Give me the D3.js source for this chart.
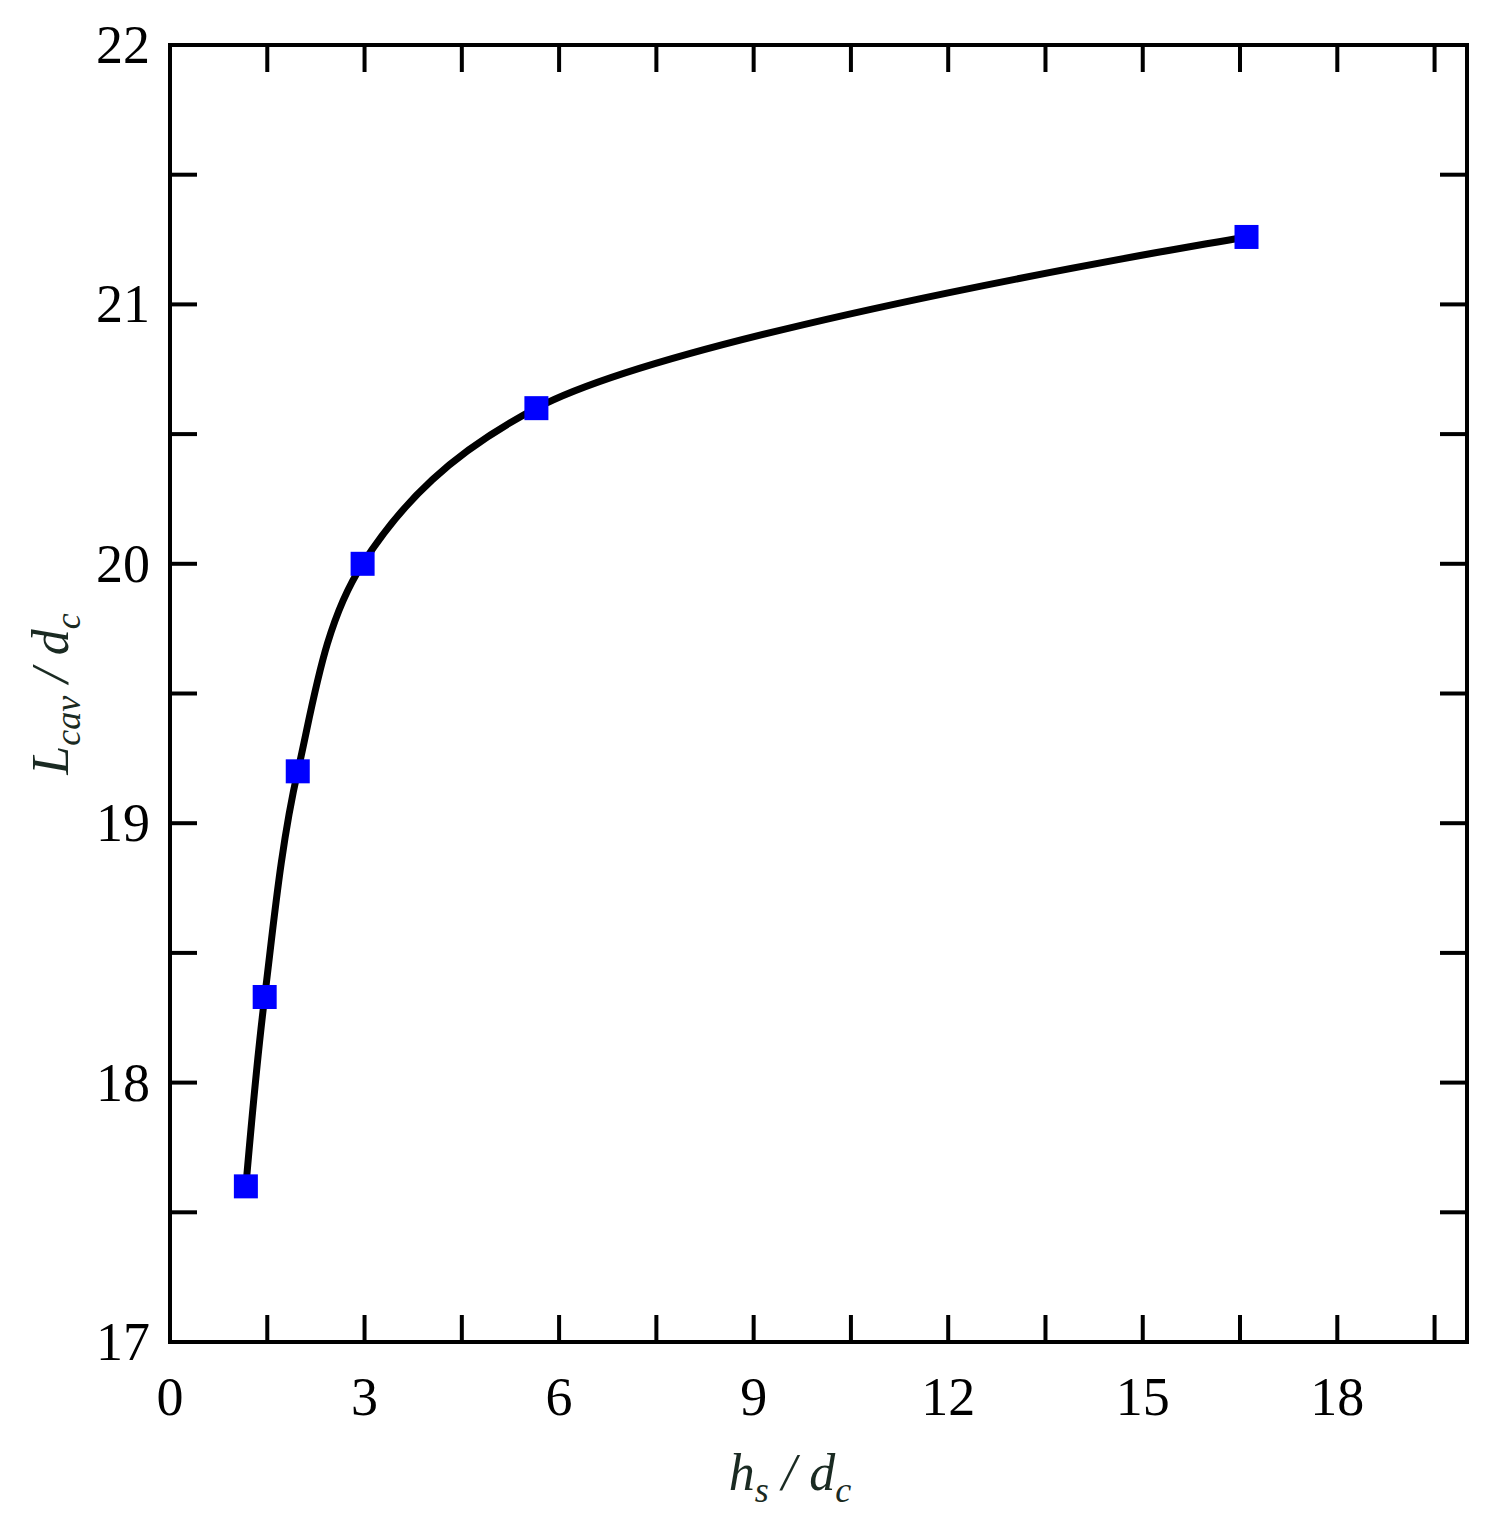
<!DOCTYPE html><html><head><script src="https://cdn.jsdelivr.net/npm/d3@7"></script>
<style>body{margin:0;background:#fff}text{font-family:"Liberation Serif",Tinos,"Times New Roman",Times,serif}</style></head><body>
<svg id="c" width="1491" height="1513"></svg>
<script>
const xs=[1.17,1.46,1.97,2.97,5.65,16.6];
const ys=[17.6,18.33,19.2,20.0,20.6,21.26];
const xTicks=[0,3,6,9,12,15,18];
const yTicks=[17,18,19,20,21,22];
const svg=d3.select("#c");
const L=170,R=1467,T=45,B=1342;
const x=d3.scaleLinear().domain([0,20]).range([L,R]);
const y=d3.scaleLinear().domain([17,22]).range([B,T]);
const tl=27;
const g=svg.append("g");
const minorX=d3.range(0,20.01,1.5), minorY=d3.range(17,22.01,0.5);
minorX.forEach(v=>{g.append("line").attr("x1",x(v)).attr("x2",x(v)).attr("y1",B).attr("y2",B-tl);
 g.append("line").attr("x1",x(v)).attr("x2",x(v)).attr("y1",T).attr("y2",T+tl);});
minorY.forEach(v=>{g.append("line").attr("y1",y(v)).attr("y2",y(v)).attr("x1",L).attr("x2",L+tl);
 g.append("line").attr("y1",y(v)).attr("y2",y(v)).attr("x1",R).attr("x2",R-tl);});
g.selectAll("line").attr("stroke","#000").attr("stroke-width",4);
svg.append("rect").attr("x",L).attr("y",T).attr("width",R-L).attr("height",B-T).attr("fill","none").attr("stroke","#000").attr("stroke-width",4);
xTicks.forEach(v=>svg.append("text").attr("x",x(v)).attr("y",B+73).attr("text-anchor","middle").attr("font-size",54).text(v));
yTicks.forEach(v=>svg.append("text").attr("x",L-20).attr("y",y(v)+18).attr("text-anchor","end").attr("font-size",54).text(v));
const pts=xs.map((v,i)=>[v,ys[i]]);
svg.append("path").attr("d",d3.line().x(d=>x(d[0])).y(d=>y(d[1])).curve(d3.curveCatmullRom.alpha(0.5))(pts))
 .attr("fill","none").attr("stroke","#000").attr("stroke-width",7);
svg.selectAll(".m").data(pts).enter().append("rect").attr("x",d=>x(d[0])-12).attr("y",d=>y(d[1])-12)
 .attr("width",24).attr("height",24).attr("fill","#0000ff");
const xl=svg.append("text").attr("x",790).attr("y",1490).attr("text-anchor","middle").attr("font-size",52).attr("font-style","italic").attr("fill","#1a2a22");
xl.append("tspan").text("h");xl.append("tspan").attr("font-size",36).attr("dy",12).text("s");
xl.append("tspan").attr("dy",-12).text(" / d");xl.append("tspan").attr("font-size",36).attr("dy",12).text("c");
const yl=svg.append("text").attr("transform","translate(68,694) rotate(-90)").attr("text-anchor","middle").attr("font-size",52).attr("font-style","italic").attr("fill","#1a2a22");
yl.append("tspan").text("L");yl.append("tspan").attr("font-size",36).attr("dy",12).text("cav");
yl.append("tspan").attr("dy",-12).text(" / d");yl.append("tspan").attr("font-size",36).attr("dy",12).text("c");
</script></body></html>
